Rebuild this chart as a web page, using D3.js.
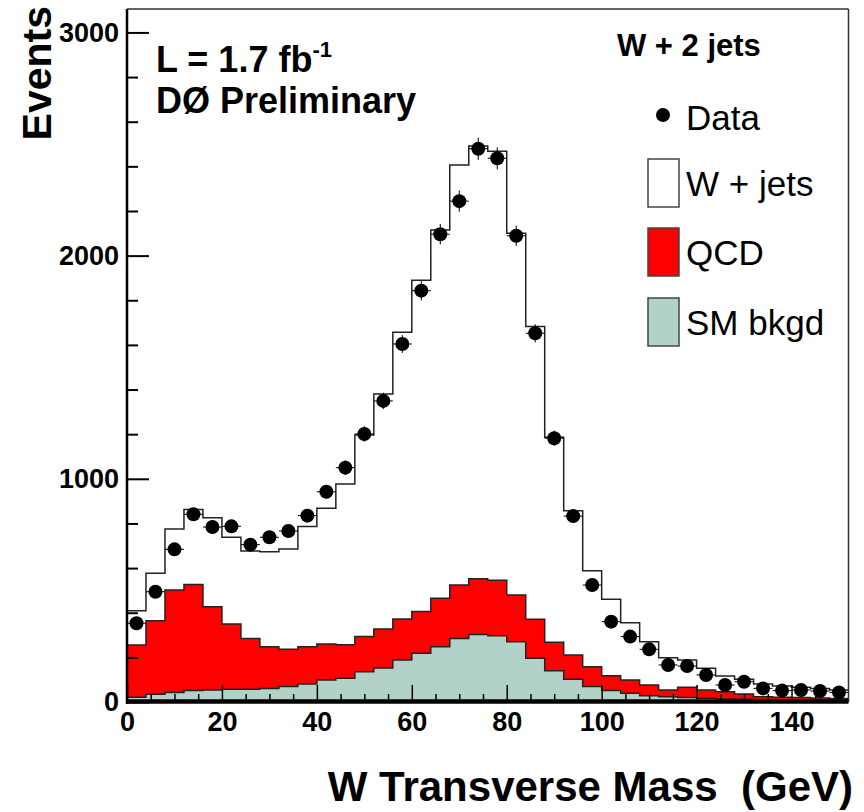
<!DOCTYPE html>
<html>
<head>
<meta charset="utf-8">
<script src="https://cdn.jsdelivr.net/npm/d3@7"></script>
<style>
  html, body { margin: 0; padding: 0; background: #fff; }
  svg { display: block; }
  text { font-family: "Liberation Sans", Arial, Helvetica, sans-serif; fill: #000; }
</style>
</head>
<body>
<svg id="chart" width="864" height="812"></svg>
<script>
// ---------------- data ----------------
const binCenters = [2, 6, 10, 14, 18, 22, 26, 30, 34, 38, 42, 46, 50, 54, 58, 62, 66, 70, 74, 78,
  82, 86, 90, 94, 98, 102, 106, 110, 114, 118, 122, 126, 130, 134, 138, 142, 146, 150];
const dataCounts = [353, 494, 684, 841, 784, 787, 705, 738, 766, 835, 942, 1050, 1201, 1349, 1604, 1843, 2096, 2244, 2479, 2436,
  2089, 1652, 1182, 833, 524, 360, 293, 236, 166, 161, 121, 76, 91, 61, 51, 54, 49, 43];
const smBkgd = [21, 35, 43, 51, 54, 57, 57, 60, 69, 81, 99, 106, 136, 152, 188, 218, 248, 284, 302, 297,
  270, 196, 140, 102, 69, 51, 39, 28, 24, 20, 17, 14, 12, 10, 9, 8, 7, 6];
const qcd = [234, 329, 459, 476, 373, 293, 227, 188, 167, 167, 161, 151, 157, 175, 184, 187, 217, 240, 250, 248,
  209, 175, 128, 109, 89, 67, 60, 48, 30, 46, 37, 32, 24, 14, 12, 12, 11, 10];
const wjets = [154, 213, 273, 336, 399, 388, 393, 425, 450, 538, 608, 720, 903, 1053, 1285, 1485, 1650, 1882, 1939, 1923,
  1621, 1311, 918, 646, 430, 342, 256, 194, 144, 122, 97, 70, 66, 57, 51, 46, 43, 38];
const binHalfWidth = 2;
const xTicks = [0, 20, 40, 60, 80, 100, 120, 140];
const xMinorTicks = [5, 10, 15, 25, 30, 35, 45, 50, 55, 65, 70, 75, 85, 90, 95, 105, 110, 115, 125, 130, 135, 145, 150];
const yTicks = [0, 1000, 2000, 3000];
const yMinorTicks = [200, 400, 600, 800, 1200, 1400, 1600, 1800, 2200, 2400, 2600, 2800];
const legendItems = [
  { label: "W + jets", color: "#ffffff" },
  { label: "QCD", color: "#ff0000" },
  { label: "SM bkgd", color: "#b2d1c9" }
];

// ---------------- layout ----------------
const svg = d3.select("#chart");
const x = d3.scaleLinear().domain([0, 152]).range([127, 848.5]);
const y = d3.scaleLinear().domain([0, 3105]).range([702, 9]);
const pLeft = x.range()[0], pRight = x.range()[1], pTop = y.range()[1], pBottom = y.range()[0];

svg.append("defs").append("clipPath").attr("id", "plotclip")
  .append("rect").attr("x", pLeft).attr("y", pTop).attr("width", pRight - pLeft).attr("height", pBottom - pTop);

// stacked histograms
const rows = binCenters.map((c, i) => ({ c, sm: smBkgd[i], qcd: qcd[i], wjets: wjets[i] }));
const stacked = d3.stack().keys(["sm", "qcd", "wjets"])(rows);

function stepPoints(serie) {
  const pts = [];
  serie.forEach((d, i) => {
    pts.push({ x: binCenters[i] - binHalfWidth, v: d[1] });
    pts.push({ x: binCenters[i] + binHalfWidth, v: d[1] });
  });
  return pts;
}
const area = d3.area().x(d => x(d.x)).y0(y(0)).y1(d => y(d.v));
const line = d3.line().x(d => x(d.x)).y(d => y(d.v));

const hg = svg.append("g").attr("clip-path", "url(#plotclip)");
const fills = { wjets: "#ffffff", qcd: "#ff0000", sm: "#b2d1c9" };
[2, 1, 0].forEach(k => {
  const s = stacked[k];
  const pts = stepPoints(s);
  hg.append("path").attr("d", area(pts)).attr("fill", fills[s.key]).attr("stroke", "none");
  hg.append("path").attr("d", line(pts)).attr("fill", "none").attr("stroke", "#222").attr("stroke-width", 1.5);
});

// data points with error bars
const dg = svg.append("g").attr("clip-path", "url(#plotclip)");
binCenters.forEach((c, i) => {
  const v = dataCounts[i], e = Math.sqrt(v);
  dg.append("line").attr("x1", x(c - binHalfWidth)).attr("x2", x(c + binHalfWidth))
    .attr("y1", y(v)).attr("y2", y(v)).attr("stroke", "#000").attr("stroke-width", 1);
  dg.append("line").attr("x1", x(c)).attr("x2", x(c))
    .attr("y1", y(v - e)).attr("y2", y(v + e)).attr("stroke", "#000").attr("stroke-width", 1);
  dg.append("circle").attr("cx", x(c)).attr("cy", y(v)).attr("r", 7).attr("fill", "#000");
});

// frame (top / right)
svg.append("line").attr("x1", pLeft).attr("x2", pRight).attr("y1", pTop).attr("y2", pTop)
  .attr("stroke", "#333").attr("stroke-width", 1.5);
svg.append("line").attr("x1", pRight).attr("x2", pRight).attr("y1", pTop).attr("y2", pBottom)
  .attr("stroke", "#333").attr("stroke-width", 1.5);

// axes
const yAxis = d3.axisLeft(y).tickValues(yTicks).tickSizeInner(-22).tickSizeOuter(0).tickPadding(8)
  .tickFormat(d3.format("d"));
const yMinor = d3.axisLeft(y).tickValues(yMinorTicks).tickSizeInner(-11).tickSizeOuter(0).tickFormat("");
const xAxis = d3.axisBottom(x).tickValues(xTicks).tickSizeInner(-17).tickSizeOuter(0).tickPadding(10)
  .tickFormat(d3.format("d"));
const xMinor = d3.axisBottom(x).tickValues(xMinorTicks).tickSizeInner(-8).tickSizeOuter(0).tickFormat("");

function styleAxis(g, w) {
  g.select(".domain").remove();
  g.selectAll(".tick line").attr("stroke", "#000").attr("stroke-width", w);
  g.selectAll(".tick text").attr("font-size", 27).attr("font-weight", "bold")
    .attr("font-family", "'Liberation Sans', Arial, Helvetica, sans-serif").attr("fill", "#000");
}
svg.append("g").attr("transform", `translate(${pLeft},0)`).call(yMinor).call(g => styleAxis(g, 2));
svg.append("g").attr("transform", `translate(${pLeft},0)`).call(yAxis).call(g => styleAxis(g, 2));
svg.append("g").attr("transform", `translate(0,${pBottom})`).call(xMinor).call(g => styleAxis(g, 1.5));
svg.append("g").attr("transform", `translate(0,${pBottom})`).call(xAxis).call(g => styleAxis(g, 1.5));

// axis lines
svg.append("line").attr("x1", pLeft).attr("x2", pLeft).attr("y1", pTop).attr("y2", pBottom + 2)
  .attr("stroke", "#000").attr("stroke-width", 2.5);
svg.append("line").attr("x1", pLeft).attr("x2", pRight).attr("y1", pBottom - 0.5).attr("y2", pBottom - 0.5)
  .attr("stroke", "#000").attr("stroke-width", 4.5);

// axis titles
svg.append("text").attr("transform", "translate(51,6) rotate(-90)")
  .attr("text-anchor", "end").attr("font-size", 41).attr("font-weight", "bold").text("Events");
svg.append("text").attr("x", 853).attr("y", 801).attr("text-anchor", "end")
  .attr("font-size", 42).attr("font-weight", "bold").style("white-space", "pre")
  .text("W Transverse Mass  (GeV)");

// annotations
const lum = svg.append("text").attr("x", 156).attr("y", 72).attr("font-size", 36).attr("font-weight", "bold");
lum.append("tspan").text("L = 1.7 fb");
lum.append("tspan").attr("font-size", 22).attr("dy", -15).text("-1");
svg.append("text").attr("x", 156).attr("y", 113).attr("font-size", 36).attr("font-weight", "bold")
  .text("DØ Preliminary");
svg.append("text").attr("x", 617).attr("y", 56).attr("font-size", 31).attr("font-weight", "bold")
  .text("W + 2 jets");

// legend
svg.append("circle").attr("cx", 663).attr("cy", 115).attr("r", 7).attr("fill", "#000");
svg.append("text").attr("x", 686).attr("y", 130).attr("font-size", 35).text("Data");
const legTops = [159, 228, 298];
legendItems.forEach((it, i) => {
  svg.append("rect").attr("x", 648).attr("y", legTops[i]).attr("width", 31).attr("height", 48)
    .attr("fill", it.color).attr("stroke", "#444").attr("stroke-width", 1.5);
  svg.append("text").attr("x", 686).attr("y", legTops[i] + 37).attr("font-size", 35).text(it.label);
});
</script>
</body>
</html>
